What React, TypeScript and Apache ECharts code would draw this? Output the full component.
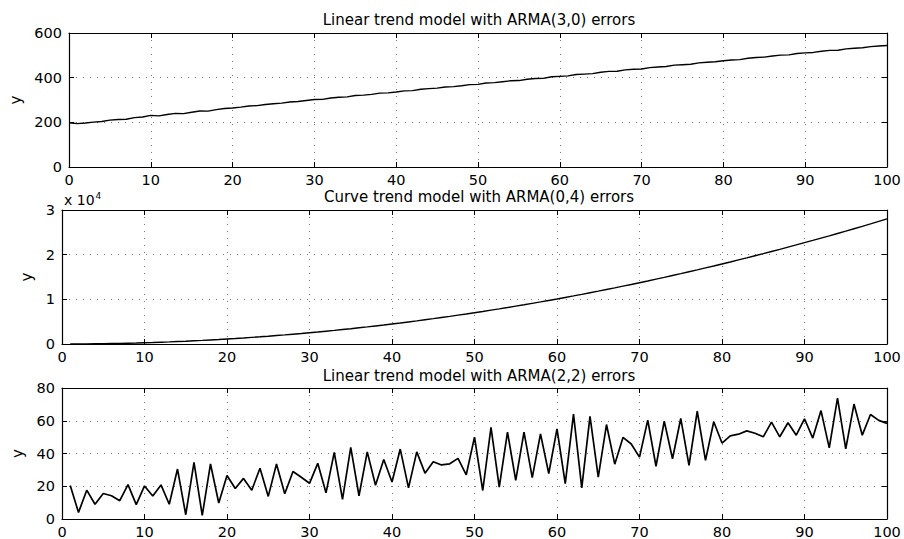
import React, { useEffect, useRef } from "react";
import * as echarts from "echarts";

// ---- data ----
const titles = [
  "Linear trend model with ARMA(3,0) errors",
  "Curve trend model with ARMA(0,4) errors",
  "Linear trend model with ARMA(2,2) errors",
];

const xTicks = [0, 10, 20, 30, 40, 50, 60, 70, 80, 90, 100];

// series 1: linear trend with ARMA(3,0) errors (x = 0..100)
const linear30 = [
  198,
  194, 197, 201, 204, 210, 213, 214, 221, 224, 231,
  229, 235, 240, 239, 245, 251, 250, 257, 262, 264,
  268, 273, 275, 280, 283, 286, 291, 293, 298, 302,
  303, 309, 312, 314, 320, 322, 325, 331, 332, 336,
  341, 342, 348, 351, 353, 358, 360, 364, 369, 370,
  376, 378, 382, 386, 387, 393, 396, 397, 404, 406,
  408, 414, 416, 418, 424, 428, 429, 435, 438, 439,
  445, 448, 450, 456, 458, 460, 466, 469, 471, 476,
  479, 481, 487, 490, 492, 497, 501, 502, 508, 511,
  513, 518, 522, 523, 529, 532, 534, 539, 542, 544,
];

// series 2: curve trend with ARMA(0,4) errors (x = 1..100)
const curve04 = [
  3, 12, 24, 46, 69, 102, 136, 180, 226, 281,
  338, 404, 472, 550, 629, 718, 808, 908, 1010, 1121,
  1234, 1356, 1480, 1614, 1749, 1894, 2040, 2196, 2354, 2521,
  2690, 2868, 3048, 3238, 3429, 3630, 3832, 4044, 4258, 4481,
  4706, 4940, 5176, 5422, 5669, 5926, 6184, 6452, 6722, 7001,
  7282, 7572, 7864, 8166, 8469, 8782, 9096, 9420, 9746, 10081,
  10418, 10764, 11112, 11470, 11829, 12198, 12568, 12948, 13330, 13721,
  14114, 14516, 14920, 15334, 15749, 16174, 16600, 17036, 17474, 17921,
  18370, 18828, 19288, 19758, 20229, 20710, 21192, 21684, 22178, 22681,
  23186, 23700, 24216, 24742, 25269, 25806, 26344, 26892, 27442, 28001,
];

// series 3: linear trend with ARMA(2,2) errors (x = 1..100)
const linear22 = [
  20.5, 4, 17.6, 9, 15.6, 14.2, 11.2, 21, 8.8, 20.2,
  14, 20.8, 9, 30.5, 2.6, 34.6, 2.2, 33.6, 9.8, 26.6,
  18.6, 24.8, 17.6, 31, 13.8, 33.6, 15.4, 29, 25.5, 21.8,
  34, 16, 40.7, 12, 43.7, 14.2, 41, 20.6, 36.3, 22.6,
  42.7, 19, 41, 28, 35, 33, 33.7, 37, 27, 50,
  17.4, 56, 19.5, 53, 23.6, 53, 25.3, 52, 27.8, 55,
  21.6, 64, 19, 62.7, 25.6, 57.7, 33.5, 49.8, 45.8, 37.8,
  60.4, 32.2, 59.8, 36.8, 61.4, 32.8, 65.8, 35.8, 59.4, 46.4,
  50.8, 51.8, 53.8, 52.4, 50.2, 59.2, 50.2, 58.8, 51.2, 61.2,
  49.4, 66.2, 43.4, 73.8, 42.8, 70.2, 51.2, 63.8, 60.2, 58.4,
];

// first x value of each series
const xStarts = [0, 1, 1];

const yTicks1 = [0, 200, 400, 600];
const yTicks2 = [0, 10000, 20000, 30000];
const yTicks3 = [0, 20, 40, 60, 80];

const FONT = "DejaVu Sans";

export default function App() {
  const ref = useRef<HTMLDivElement>(null);

  useEffect(() => {
    if (!ref.current) return;
    const chart = echarts.init(ref.current, null, { renderer: "svg" });

    const grids = [
      { left: 62, right: 17, top: 33, height: 134 },
      { left: 62, right: 17, top: 210, height: 134 },
      { left: 62, right: 17, top: 388, height: 133 },
    ];
    const ySpecs = [
      { ticks: yTicks1, fmt: (v: number) => String(v), gap: 46 },
      { ticks: yTicks2, fmt: (v: number) => String(v / 10000), gap: 26 },
      { ticks: yTicks3, fmt: (v: number) => String(v), gap: 35 },
    ];
    const datas = [linear30, curve04, linear22];
    const widths = [1.4, 1.4, 1.7];

    const gridLine = { show: true, lineStyle: { color: "#777", width: 1, type: [1, 6] as any } };
    const tickIn = { show: true, inside: true, length: 5, lineStyle: { color: "#000", width: 1 } };
    const axisLine = { show: true, onZero: false, lineStyle: { color: "#000", width: 1.2 } };
    const lbl = { color: "#000", fontFamily: FONT, fontSize: 14.5 };

    const xAxis: any[] = [];
    const yAxis: any[] = [];
    const series: any[] = [];

    grids.forEach((g, i) => {
      const xStep = xTicks[1] - xTicks[0];
      const yT = ySpecs[i].ticks;
      const yStep = yT[1] - yT[0];
      xAxis.push({
        type: "value", gridIndex: i, position: "bottom",
        min: xTicks[0], max: xTicks[xTicks.length - 1], interval: xStep,
        axisLine, axisTick: tickIn, splitLine: gridLine,
        axisLabel: { ...lbl, margin: 5 },
      });
      xAxis.push({
        type: "value", gridIndex: i, position: "top",
        min: xTicks[0], max: xTicks[xTicks.length - 1], interval: xStep,
        axisLine, axisTick: tickIn, splitLine: { show: false },
        axisLabel: { show: false },
      });
      yAxis.push({
        type: "value", gridIndex: i, position: "left",
        min: yT[0], max: yT[yT.length - 1], interval: yStep,
        axisLine, axisTick: tickIn, splitLine: gridLine,
        axisLabel: { ...lbl, margin: 7, formatter: ySpecs[i].fmt },
        name: "y", nameLocation: "middle", nameGap: ySpecs[i].gap, nameRotate: 90,
        nameTextStyle: { color: "#000", fontFamily: FONT, fontSize: 15 },
      });
      yAxis.push({
        type: "value", gridIndex: i, position: "right",
        min: yT[0], max: yT[yT.length - 1], interval: yStep,
        axisLine, axisTick: tickIn, splitLine: { show: false },
        axisLabel: { show: false },
      });
      series.push({
        type: "line", xAxisIndex: i * 2, yAxisIndex: i * 2,
        data: datas[i].map((v, k) => [k + xStarts[i], v]),
        showSymbol: false, symbol: "none",
        lineStyle: { color: "#000", width: widths[i] },
        silent: true,
      });
    });

    const titleTops = [7, 184, 363];

    chart.setOption({
      animation: false,
      backgroundColor: "#fff",
      title: titles.map((t, i) => ({
        text: t, left: 474, top: titleTops[i], textAlign: "center",
        textStyle: { color: "#000", fontFamily: FONT, fontSize: 15, fontWeight: "normal" },
      })),
      grid: grids,
      xAxis, yAxis, series,
      graphic: [
        {
          type: "text", left: 64, top: 191,
          style: {
            text: "{a|x 10}{b|4}",
            rich: {
              a: { fontFamily: FONT, fontSize: 14, fill: "#000" },
              b: { fontFamily: FONT, fontSize: 9, fill: "#000", verticalAlign: "top", padding: [0, 0, 8, 1] },
            },
          },
        },
      ],
    });

    return () => chart.dispose();
  }, []);

  return (
    <div
      ref={ref}
      style={{ position: "fixed", left: 0, top: 0, width: 904, height: 539, background: "#fff" }}
    />
  );
}
